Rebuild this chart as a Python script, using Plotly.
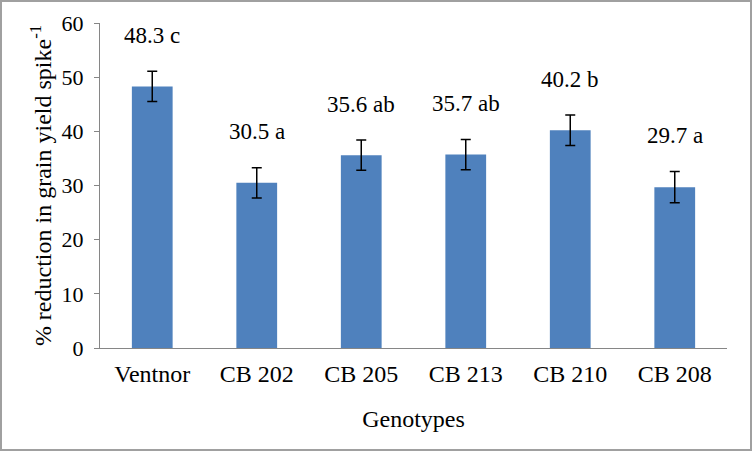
import plotly.graph_objects as go

genotypes = ["Ventnor", "CB 202", "CB 205", "CB 213", "CB 210", "CB 208"]
reduction = [48.3, 30.5, 35.6, 35.7, 40.2, 29.7]
errors = [2.8, 2.8, 2.8, 2.8, 2.8, 2.9]
letters = ["c", "a", "ab", "ab", "b", "a"]
y_ticks = [0, 10, 20, 30, 40, 50, 60]

W, H = 752, 451
ml, mr, mt, mb = 100, 25, 23, 103
FONT = "Liberation Serif"

fig = go.Figure()
fig.add_trace(go.Bar(
    x=genotypes, y=reduction,
    marker=dict(color="#4F81BD", line=dict(width=0)),
    error_y=dict(type="data", array=errors, visible=True, color="black", thickness=1.5, width=5),
    width=0.39,
))

for g, v, e, l in zip(genotypes, reduction, errors, letters):
    fig.add_annotation(x=g, y=v + e, text=f"{v} {l}", showarrow=False,
                       yshift=36, font=dict(family=FONT, size=23, color="black"))

fig.update_layout(
    width=W, height=H,
    margin=dict(l=ml, r=mr, t=mt, b=mb, autoexpand=False),
    paper_bgcolor="white", plot_bgcolor="white",
    showlegend=False,
    font=dict(family=FONT, size=24, color="black"),
    xaxis=dict(showline=True, linecolor="#868686", linewidth=1, ticks="", automargin=False,
               tickfont=dict(family=FONT, size=24), ticklabelstandoff=4,
               title=dict(text="Genotypes", font=dict(family=FONT, size=24), standoff=24)),
    yaxis=dict(range=[0, 60], tickvals=y_ticks, showline=True, linecolor="#868686", linewidth=1,
               ticks="outside", ticklen=5, tickcolor="#868686", showgrid=False, zeroline=False,
               automargin=False, tickfont=dict(family=FONT, size=22), ticklabelstandoff=6,
               title=dict(text="% reduction in grain yield spike<sup>-1</sup>",
                          font=dict(family=FONT, size=24), standoff=3)),
)

pw, ph = W - ml - mr, H - mt - mb
fig.add_shape(type="rect", xref="paper", yref="paper",
              x0=(-ml + 1) / pw, x1=(pw + mr - 1) / pw,
              y0=(-mb + 1) / ph, y1=(ph + mt - 1) / ph,
              line=dict(color="#A0A0A0", width=2), fillcolor="rgba(0,0,0,0)", layer="below")

fig.write_html("out.html", config={"displayModeBar": False},
               post_script="document.body.style.margin='0';")
